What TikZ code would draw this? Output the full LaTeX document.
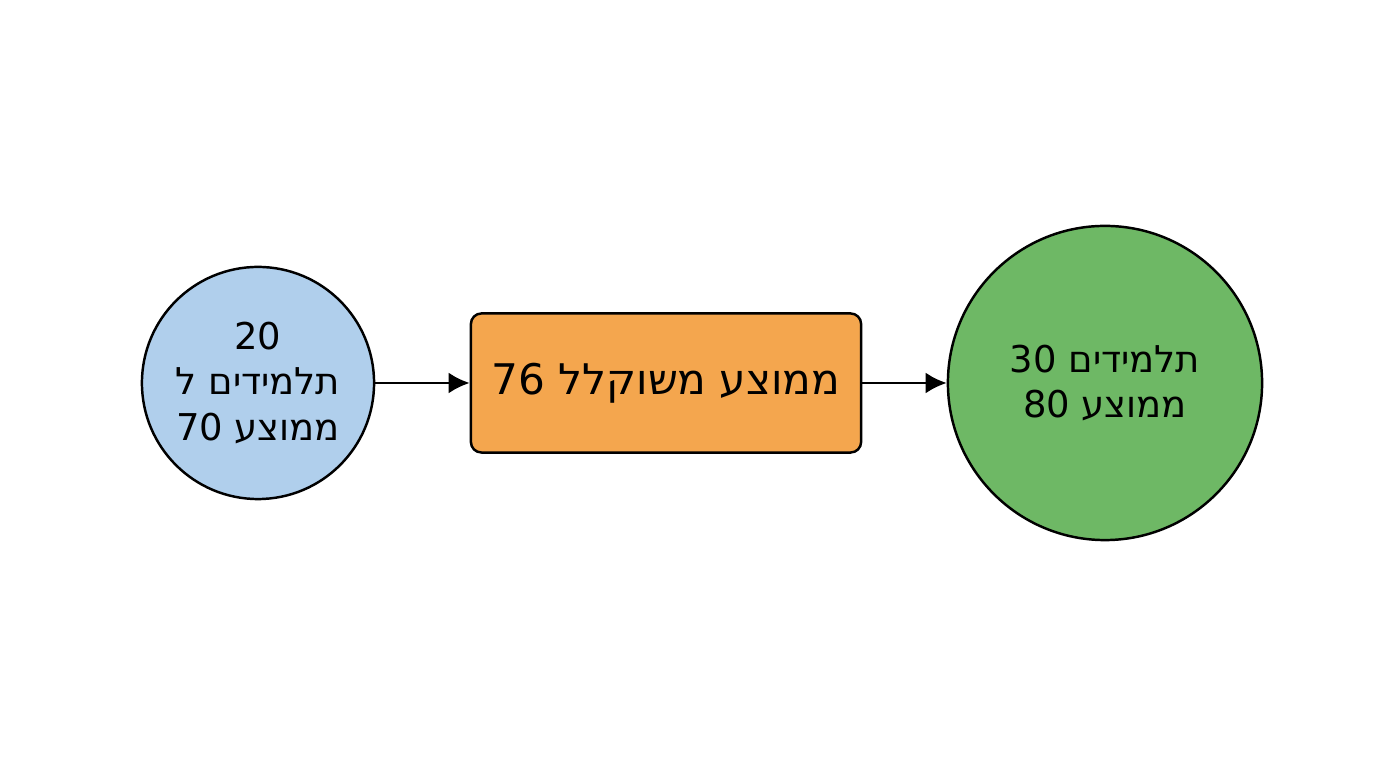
\documentclass[tikz,border=0pt]{standalone}
\usepackage{fontspec}
\setmainfont{DejaVu Sans}
\usetikzlibrary{positioning,arrows.meta}
\TeXXeTstate=1
\newcommand{\heb}[1]{\beginR #1\endR}
\definecolor{cblue}{HTML}{B0CFEC}
\definecolor{corange}{HTML}{F4A64E}
\definecolor{cgreen}{HTML}{6EB865}
\begin{document}
\begin{tikzpicture}[x=0.01cm,y=-0.01cm,
  grp/.style={circle, draw, line width=0.7pt, align=center, inner sep=0pt, font=\fontsize{10.5}{13}\selectfont},
  res/.style={rectangle, rounded corners=3pt, draw, line width=0.7pt, fill=corange, minimum width=3.9cm, minimum height=1.39cm, font=\fontsize{12}{15}\selectfont},
  arr/.style={-{Latex[length=6pt,width=6pt]}, line width=0.8pt}]
\useasboundingbox (0,0) rectangle (1376,768);
\node[grp, fill=cblue, minimum size=2.32cm] (a) at (258,383) {\hbox{20}\\\hbox{\heb{ל} \heb{תלמידים}}\\\hbox{70 \heb{ממוצע}}};
\node[res] (m) at (666,383) {\hbox{76 \heb{ממוצע משוקלל}}};
\node[grp, fill=cgreen, minimum size=3.14cm] (b) at (1105,383) {\hbox{30 \heb{תלמידים}}\\\hbox{80 \heb{ממוצע}}};
\draw[arr] (a) -- (m);
\draw[arr] (m) -- (b);
\end{tikzpicture}
\end{document}
